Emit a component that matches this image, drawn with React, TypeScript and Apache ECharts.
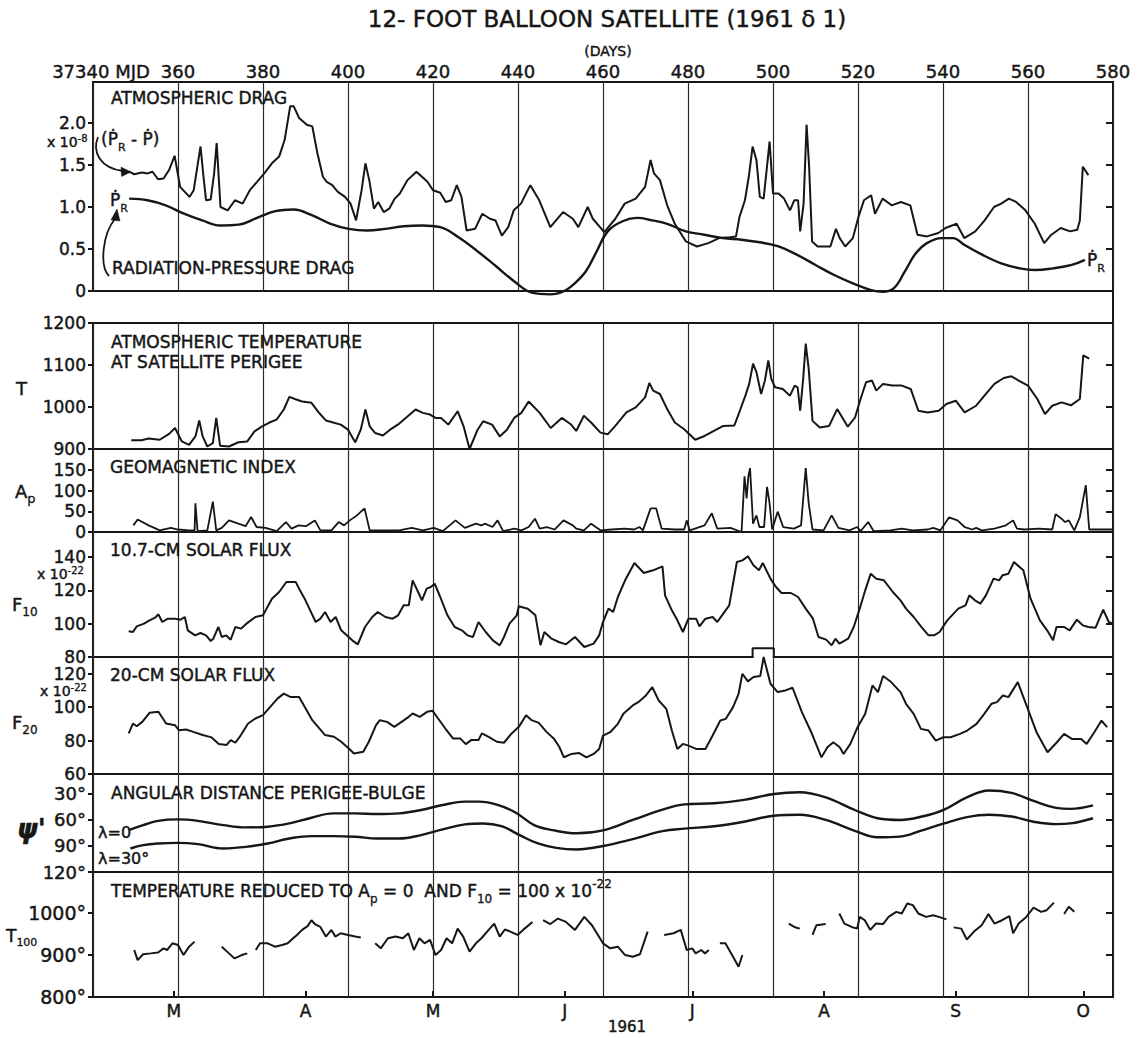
import React, { useEffect, useRef } from "react";
import * as echarts from "echarts";

// ---- axes -----------------------------------------------------------------
const DAY_MIN = 340;
const DAY_MAX = 580;
const DAY_STEP = 20;

const monthDays = [359, 390, 420, 451, 481, 512, 543, 573];
const monthLetters = ["M", "A", "M", "J", "J", "A", "S", "O"];

const dragTicks = [0, 0.5, 1, 1.5, 2];
const tempTicks = [900, 1000, 1100, 1200];
const apTicks = [0, 50, 100, 150];
const f10Ticks = [80, 100, 120, 140];
const f20Ticks = [60, 80, 100, 120];
const psiTicks = [30, 60, 90, 120];
const t100Ticks = [800, 900, 1000];

// ---- series (day, value) --------------------------------------------------
const dragExcess: [number, number][] = [
  [348.5, 1.42], [349.7, 1.39], [351.5, 1.41], [352.8, 1.4], [354, 1.42], [355.3, 1.33], [356.6, 1.34],
  [357.9, 1.44], [359.2, 1.61], [360.5, 1.24], [362.7, 1.12], [363.7, 1.2], [364.8, 1.56], [365.3, 1.72],
  [366, 1.36], [366.6, 1.08], [367.7, 1.09], [368.5, 1.4], [369.1, 1.76], [370, 1.0], [371.7, 0.96],
  [373.4, 1.08], [375.2, 1.04], [376.9, 1.2], [378.6, 1.3], [380.3, 1.4], [382.1, 1.52], [383.8, 1.6],
  [385.1, 1.8], [386.4, 2.2], [387.2, 2.2], [388.5, 2.06], [390.3, 1.98], [391.6, 1.96], [392.8, 1.64],
  [394.1, 1.36], [395, 1.3], [396.3, 1.26], [397.6, 1.18], [399.3, 1.12], [400.6, 1.04], [401.9, 0.84],
  [403.2, 1.2], [404.1, 1.52], [405, 1.32], [406.1, 0.98], [407.1, 1.06], [408.4, 0.94], [409.7, 0.98],
  [411, 1.1], [412.2, 1.16], [414, 1.32], [416.1, 1.42], [417.4, 1.36], [418.7, 1.3], [420, 1.2],
  [421.7, 1.17], [423, 1.06], [424.3, 1.08], [425.6, 1.26], [426.7, 1.12], [427.9, 0.72], [429.9, 0.74],
  [431.6, 0.92], [433.4, 0.86], [434.7, 0.84], [436.2, 0.66], [437.7, 0.76], [439, 0.96], [440.7, 1.04],
  [442.9, 1.26], [445, 1.08], [447.6, 0.76], [450.6, 0.94], [452.9, 0.86], [454.2, 0.76], [456.4, 1.0],
  [457.6, 0.86], [460.3, 0.7], [462.9, 0.86], [465.1, 1.04], [467.7, 1.1], [469.9, 1.24], [471.2, 1.56],
  [472, 1.4], [473.4, 1.32], [475.1, 1.02], [476.9, 0.8], [479.5, 0.59], [482.1, 0.53], [484.8, 0.57],
  [487.3, 0.63], [489.9, 0.64], [491.3, 0.65], [492.1, 0.88], [493.4, 1.08], [494.3, 1.36], [495.2, 1.72],
  [496.1, 1.56], [496.9, 1.12], [497.8, 1.1], [498.5, 1.44], [499.2, 1.78], [500, 1.16], [501.3, 1.16],
  [502.6, 1.1], [504, 0.96], [505, 1.08], [505.9, 1.08], [506.4, 0.71], [507.2, 1.04], [507.9, 1.98],
  [508.5, 1.48], [509.2, 0.59], [510.5, 0.53], [512.2, 0.53], [513.5, 0.53], [514.8, 0.74], [515.7, 0.63],
  [517, 0.53], [518.8, 0.63], [520.1, 0.88], [521.4, 1.08], [523.1, 1.14], [524, 0.92], [525.8, 1.1],
  [527.9, 1.02], [530.1, 1.06], [532.3, 1.02], [534, 0.67], [536.2, 0.65], [538.9, 0.69], [540.6, 0.75],
  [543.2, 0.8], [545, 0.63], [547.6, 0.71], [549.8, 0.84], [552, 1.0], [553.7, 1.04], [555.5, 1.1],
  [557.2, 1.06], [559.4, 0.96], [561.6, 0.8], [563.8, 0.57], [565.5, 0.67], [567.7, 0.75], [569.9, 0.71],
  [571.6, 0.73], [572.2, 0.84], [572.9, 1.48], [574.2, 1.38],
];

const radiationDrag: [number, number][] = [
  [348.5, 1.1], [352.8, 1.08], [357.1, 1.02], [361.4, 0.92], [365.7, 0.84], [370, 0.78], [374.3, 0.79],
  [378.6, 0.87], [382.9, 0.95], [387.2, 0.97], [391.6, 0.9], [395.9, 0.8], [400.2, 0.74], [404.5, 0.72],
  [408.8, 0.74], [413.1, 0.77], [417.4, 0.78], [421.7, 0.76], [426, 0.64], [430.3, 0.48], [434.7, 0.3],
  [439, 0.12], [443.3, -0.02], [447.6, -0.04], [450, -0.02], [452.4, 0.05], [455.9, 0.23], [458.5, 0.47],
  [461.1, 0.71], [464.6, 0.83], [468.1, 0.87], [471.6, 0.84], [475.1, 0.8], [479.5, 0.71], [483.8, 0.67],
  [488.2, 0.63], [492.6, 0.61], [496.9, 0.58], [501.3, 0.53], [505.7, 0.43], [510, 0.31], [514.4, 0.19],
  [518.8, 0.09], [523.1, 0.01], [525.8, -0.01], [528.4, 0.03], [531, 0.23], [533.6, 0.45], [536.2, 0.57],
  [539.7, 0.63], [542.4, 0.63], [545, 0.55], [549.3, 0.43], [553.7, 0.33], [558.1, 0.27], [561.6, 0.25],
  [565.9, 0.27], [570.3, 0.31], [573.4, 0.37],
];

const perigeeTemp: [number, number][] = [
  [349, 921], [351.4, 921], [353.1, 925], [355.7, 922], [357.9, 936], [359.3, 950], [360.9, 918],
  [362.6, 910], [364.1, 930], [365, 968], [365.8, 930], [366.9, 906], [368.2, 914], [369, 974],
  [369.9, 908], [372, 906], [374.2, 916], [376.3, 918], [378, 942], [379.8, 954], [381.5, 963],
  [383.2, 970], [384.9, 994], [386.2, 1024], [387.5, 1019], [389.2, 1013], [391.4, 1010], [393.1, 987],
  [394.8, 968], [396.5, 963], [398.3, 958], [400, 946], [401.7, 916], [403, 946], [404.1, 994],
  [405.1, 954], [406.4, 938], [408.2, 932], [409.9, 946], [412, 960], [414.2, 979], [415.9, 994],
  [417.6, 986], [419.3, 982], [420.6, 974], [421.9, 974], [423.6, 958], [425.8, 990], [427.2, 954],
  [428.6, 900], [430.5, 946], [431.8, 966], [433.9, 958], [435.7, 930], [437.4, 946], [439.1, 974],
  [440.8, 986], [442.5, 1013], [445.1, 986], [447.7, 950], [450.3, 974], [452.4, 959], [453.7, 943],
  [455.5, 979], [457.2, 963], [459.4, 939], [461.1, 935], [462.9, 955], [465.5, 987], [467.7, 999],
  [469.9, 1023], [470.9, 1057], [471.8, 1039], [473.4, 1031], [475.1, 995], [476.9, 963], [479.1, 947],
  [481.7, 922], [483.9, 931], [486.1, 943], [488.3, 955], [490.9, 956], [492.2, 991], [493.5, 1027],
  [494.4, 1055], [495.3, 1103], [496.1, 1083], [497.2, 1031], [498.1, 1063], [498.9, 1111], [499.6, 1067],
  [500.5, 1047], [502.3, 1043], [504, 1027], [505.1, 1051], [505.8, 1047], [506.4, 991], [507.1, 1067],
  [507.7, 1151], [508.4, 1091], [509.3, 967], [511, 951], [513.2, 955], [515.1, 995], [516.3, 975],
  [517.6, 953], [519.3, 975], [520.6, 1019], [521.9, 1059], [523.3, 1063], [524.3, 1039], [525.9, 1055],
  [528.1, 1051], [530.3, 1051], [532.4, 1043], [534.2, 991], [536.4, 987], [539, 991], [540.8, 1007],
  [543, 1015], [545.1, 987], [547.8, 1003], [549.9, 1029], [552.1, 1055], [554.3, 1069], [556.1, 1073],
  [557.8, 1063], [560, 1051], [562.2, 1019], [564, 983], [565.7, 1003], [567.9, 1011], [570.1, 1004],
  [572.2, 1019], [573, 1123], [574.4, 1115],
];

const apIndex: [number, number][] = [
  [349.5, 16], [350.5, 30], [353.1, 16], [355.7, 4], [358.3, 10], [360, 6], [362.6, 4], [363.9, 4],
  [364.1, 69], [364.6, 2], [366.9, 4], [368.2, 73], [369, 4], [370.3, 10], [372, 28], [374.2, 20],
  [375.9, 14], [377.2, 36], [378.5, 12], [380.6, 10], [383.2, 2], [385.4, 24], [386.7, 8], [388.4, 16],
  [390.1, 14], [392.2, 28], [393.5, 4], [396.1, 4], [397.8, 24], [399.1, 16], [400.4, 28], [402.1, 40],
  [403.9, 57], [405.1, 4], [409, 4], [412, 4], [415, 10], [417.6, 4], [420.2, 10], [422.3, 2],
  [425.3, 28], [427.5, 10], [430.1, 20], [431.4, 16], [432.2, 20], [434, 12], [435.2, 28], [436.5, 2],
  [439.1, 8], [440.8, 4], [442.5, 12], [444, 32], [445.1, 8], [446.8, 12], [448.6, 6], [450.7, 28],
  [452.9, 16], [453.7, 8], [455.5, 4], [457.2, 20], [459.4, 4], [462, 6], [465.1, 8], [467.3, 6],
  [468.6, 12], [469.4, 4], [471.2, 57], [472.5, 57], [473.8, 8], [476.9, 6], [479.1, 6], [479.7, 28],
  [480.4, 4], [483.9, 16], [485.6, 45], [486.9, 8], [490, 10], [492.6, 0], [493.3, 134], [493.8, 81],
  [494.2, 134], [494.6, 154], [495.3, 20], [496.1, 40], [496.8, 12], [497.9, 12], [498.6, 109],
  [499.2, 69], [499.8, 6], [501.1, 49], [502.4, 12], [504.9, 8], [506.6, 16], [507.7, 154], [508.4, 69],
  [509.3, 6], [511.9, 4], [513.8, 40], [515.4, 10], [518, 4], [519.8, 12], [520.6, 2], [522.4, 24],
  [523.7, 2], [527.6, 4], [530.3, 8], [532.9, 4], [536.4, 6], [537.7, 10], [539.4, 4], [541.4, 35],
  [543.4, 28], [545.1, 12], [546.9, 6], [547.8, 10], [549.1, 4], [552.1, 8], [554.8, 16], [556.5, 28],
  [557.4, 8], [559.1, 6], [562.6, 8], [565.7, 6], [566.5, 43], [567.9, 32], [568.7, 24], [569.6, 28],
  [570.9, 4], [572.2, 36], [573.6, 113], [574.4, 6], [575.7, 6], [580, 6],
];

const flux10: [number, number][] = [
  [348.4, 95.4], [349.4, 95], [350.3, 98.4], [352, 100], [353.3, 102], [354.6, 103.6], [355.4, 105.6],
  [356.3, 101], [357.6, 103], [359.3, 103], [360.6, 102.4], [361.6, 104], [362.3, 96], [364, 93],
  [365.3, 94.4], [366.6, 93], [367.7, 89.6], [368.3, 91], [369.5, 98], [370.3, 92], [371.3, 93],
  [372.4, 90.4], [373.5, 98], [374.8, 97], [376.1, 100], [378.2, 104], [380, 105], [382.1, 115],
  [383.8, 119], [385.5, 125], [387.7, 125], [388.5, 121], [389.8, 115], [391.1, 108], [392.4, 101],
  [393.5, 103], [394.6, 107], [395.9, 101], [397.1, 104], [398.4, 96], [399.7, 93], [401, 90],
  [402.3, 87.6], [404, 98], [405.7, 104], [407, 107], [408.8, 104], [410.5, 103], [411.8, 105],
  [413.1, 111], [414.3, 111], [415.2, 126], [416.5, 119], [417.4, 114], [418.5, 121], [419.5, 122],
  [420.4, 124], [421.7, 116], [423.4, 105], [425.1, 98], [426.8, 96], [428.1, 93], [429.4, 92],
  [430.7, 101], [432.4, 95], [434.1, 90], [435.7, 87], [436.7, 92], [438, 100], [439.7, 105],
  [440.2, 110.4], [442.3, 109], [444.1, 105], [445.3, 87], [446.2, 95], [447.9, 91], [449.6, 89],
  [451.3, 87.6], [453.4, 92], [455.6, 86], [457.8, 88], [459.1, 93], [460, 101], [461.3, 109],
  [462.4, 107], [463.5, 116], [465.2, 126], [467.4, 136.4], [469.6, 130.4], [471.8, 132], [474, 134.4],
  [474.6, 117], [476.2, 108], [477.5, 102], [478.8, 95], [480.1, 103], [481.9, 103], [482.7, 98.4],
  [484.1, 103], [485.8, 104], [486.9, 101], [488, 105], [489.7, 111], [491.5, 137], [492.8, 138],
  [494.1, 140.4], [495.4, 135], [496.7, 132], [497.6, 136.4], [499.4, 127], [500.7, 122], [502, 118.4],
  [504.2, 118.4], [505.9, 116], [507.7, 109], [509.4, 103], [510.7, 92], [512.5, 90.4], [513.8, 87],
  [514.7, 91], [515.6, 88], [517.7, 91], [519, 98], [520.4, 109], [521.7, 120], [523, 130], [524.3, 127],
  [526.1, 126], [528.2, 119], [530, 114], [531.3, 109], [533.1, 104], [534.8, 98.4], [536.6, 93],
  [537.9, 93], [539.2, 95], [541, 102], [543.6, 109], [545.3, 111], [546.2, 117], [547.5, 114],
  [548.8, 112], [550.1, 117], [551.9, 127], [553.2, 126], [554, 129], [555.4, 130], [556.7, 137],
  [558.9, 132], [560.6, 115], [562.8, 102], [564.5, 96], [565.9, 90], [566.7, 98], [568.5, 98],
  [569.8, 96], [571.5, 102.4], [572.9, 99], [574.2, 98], [575.9, 97.6], [577.7, 108.4], [579, 101],
  [580, 100],
];

const flux20: [number, number][] = [
  [348.4, 84.3], [349.4, 90.2], [350.3, 88.6], [351.6, 91.2], [353.3, 96.6], [355.4, 97.2], [357.2, 90.2],
  [359.3, 89.2], [360.2, 86.2], [361.9, 86.6], [363.6, 85.2], [365.8, 83.3], [367.9, 81.9], [369.6, 77.9],
  [371.4, 77.3], [372.4, 80.3], [373.5, 78.7], [374.8, 83.3], [376.5, 90.2], [378.2, 93.2], [380, 95.2],
  [381.7, 100.2], [383.4, 105.1], [384.9, 108.1], [386.4, 106.1], [388.5, 106.1], [389.8, 100.2],
  [391.6, 92.2], [393.3, 87.2], [394.6, 83.3], [396.7, 82.3], [398.4, 79.3], [400.2, 75.3], [401.4, 72.3],
  [403.6, 73.3], [404.9, 79.3], [406.6, 89.2], [407.5, 92.2], [409.2, 91.2], [410.9, 88.2], [412.6, 91.2],
  [414.3, 94.2], [415.2, 96.2], [416.9, 94.2], [418.6, 97.2], [419.9, 97.8], [421.2, 93.2], [422.9, 87.2],
  [424.7, 81.3], [426.4, 81.3], [427.7, 77.9], [429, 80.3], [430.7, 80.3], [431.5, 84.3], [433.3, 81.9],
  [435, 79.3], [436.7, 78.7], [438.5, 84.3], [440.2, 88.2], [441.9, 95.2], [443.2, 92.2], [444.9, 90.6],
  [446.7, 85.2], [448.4, 81.3], [449.7, 76.3], [450.8, 70], [452.6, 72], [454.3, 72.6], [456.1, 70],
  [457.8, 72], [459.1, 75], [460, 83], [461.7, 85], [463.5, 90], [464.8, 96], [467, 101], [468.3, 103],
  [470.1, 107], [471.6, 112], [473.1, 104], [474.9, 99], [476.2, 86], [477.5, 75], [478.8, 78],
  [480.1, 77], [481.9, 75], [484.1, 75], [485.8, 83], [487.6, 92], [488.9, 93], [490.6, 100],
  [491.9, 108], [492.8, 120], [494.1, 115.4], [495.4, 118], [497, 118.6], [497.8, 130], [499.4, 114],
  [501.1, 109], [502.9, 110], [504.6, 111.6], [506.8, 97], [509, 85], [511.4, 70], [512.8, 76],
  [514.2, 79], [515.7, 76], [516.6, 72], [518.2, 78], [519.9, 88], [521.7, 96], [523.4, 113],
  [524.7, 109], [525.9, 118.6], [527.8, 115], [530, 109], [531.3, 102], [533.1, 96], [534.8, 87],
  [536.6, 86], [538.3, 80], [540.1, 82], [541.8, 82], [544, 84], [545.7, 86], [547.9, 90], [549.7, 96],
  [551.4, 102], [552.7, 103], [554.1, 107], [555.4, 106], [557.6, 115], [559.8, 100], [562, 85],
  [564.6, 73], [566.8, 79], [568.5, 84], [570.3, 81], [572.5, 81], [573.8, 78], [575.6, 85],
  [577.3, 92], [578.6, 88],
];

// raised stretch of the frame where the 20-cm flux runs past its panel top
const notchStart = 495.2;
const notchEnd = 500.2;
const notchTop = 135.2;
const f20FrameNotch: [number, number][] = [
  [notchStart, 130], [notchStart, notchTop], [notchEnd, notchTop], [notchEnd, 130],
];
const f20FrameGap: [number, number][] = [[notchStart + 0.25, 130], [notchEnd - 0.25, 130]];

const psiLat0: [number, number][] = [
  [348.4, 71.7], [351.8, 66], [355.3, 61], [360, 59.3], [364.7, 61], [370.7, 66], [375.9, 68.6],
  [381.1, 67.8], [386.2, 64], [391.4, 57.4], [396.5, 52.4], [401.7, 52.4], [406.9, 53.2], [412, 52.4],
  [417.2, 48.5], [422.3, 42.7], [427.5, 38.9], [430.9, 38.9], [435.2, 42.7], [439.5, 51.6], [443.8, 66],
  [448.1, 71.7], [453.8, 75.4], [460, 72], [467, 60], [474, 48], [479.2, 42], [486.2, 40.8],
  [493.2, 36.8], [500.2, 30], [506.3, 28], [512.4, 34], [519.4, 48.8], [524.6, 58], [529.9, 60],
  [535.1, 56], [540.3, 48], [545.6, 34], [550.8, 26], [556.1, 28.8], [561.3, 38], [566.6, 46],
  [570, 47.2], [575.3, 43.2],
];

const psiLat30: [number, number][] = [
  [348.8, 92.9], [351.8, 89], [355.3, 87.1], [360, 86.4], [364.7, 87.9], [370.7, 92.9], [375.9, 91],
  [381.1, 87.1], [386.2, 81.4], [391.4, 78.6], [396.5, 78.6], [401.7, 79.4], [406.9, 81.4], [412, 81.4],
  [417.2, 77.5], [422.3, 70.9], [427.5, 65.1], [431.8, 64], [436.1, 67.1], [440.4, 77.5], [444.7, 87.1],
  [449, 92.2], [453.8, 94], [460, 90], [467, 82], [474, 72.8], [479.2, 70], [486.2, 67.2], [493.2, 62],
  [500.2, 55.2], [506.3, 54], [512.4, 60], [519.4, 72.8], [524.6, 80], [529.9, 79.2], [535.1, 72],
  [540.3, 64], [545.6, 56.8], [550.8, 54], [556.1, 56], [561.3, 62], [566.6, 64.8], [570, 64],
  [575.3, 58],
];

// reduced temperature comes in separate stretches
const t100Segments: [number, number][][] = [
  [[349.7, 912], [350.5, 888], [351.8, 902], [353.6, 904], [355.3, 906], [356.6, 916], [357.4, 912],
   [358.7, 928], [360, 924], [361.3, 900], [362.6, 920], [363.9, 932]],
  [[370.3, 920], [372, 904], [373.3, 892], [375, 900], [376.3, 904]],
  [[378.3, 912], [379.3, 928], [381.1, 928], [382.8, 920], [384.5, 924], [385.8, 928], [387.1, 940],
   [388, 948], [389.2, 960], [390.5, 969], [391.4, 983], [392.2, 974], [393.5, 967], [394.8, 944],
   [396.1, 960], [397, 944], [398.3, 952], [400, 948], [401.7, 944], [403, 942]],
  [[406.4, 928], [407.7, 916], [409.4, 940], [411.2, 944], [412.9, 940], [414.2, 952], [415.5, 912],
   [416.8, 940], [418, 928], [419.3, 936], [420.6, 900], [421.9, 912], [423.2, 940], [424.5, 928],
   [425.8, 963], [427.1, 944], [428.6, 908], [430.1, 928], [431.4, 940], [433.1, 960], [434.4, 975],
   [435.7, 944], [436.9, 961], [438.2, 956], [439.9, 948], [441.2, 960], [443.4, 979]],
  [[445.9, 983], [447.6, 974], [449.4, 987], [451.3, 979], [453.4, 960], [455.6, 991], [457.4, 971],
   [460, 928], [461.7, 916], [463.5, 920], [465.2, 900], [467, 896], [468.7, 902], [470.5, 956]],
  [[474.4, 948], [476.6, 952], [478.3, 960], [479.7, 912], [481, 916], [481.8, 904], [483.1, 912],
   [484, 904], [484.9, 912]],
  [[487.5, 928], [488.8, 928], [490.6, 896], [491.9, 872], [492.8, 900]],
  [[503.7, 975], [505, 967], [506.3, 963]],
  [[509.3, 948], [510.2, 971], [512.4, 974]],
  [[515.6, 999], [516.8, 975], [518.5, 967], [519.8, 963], [520.4, 991], [521.6, 983], [522.9, 960],
   [524.2, 975], [525.9, 974], [527.2, 991], [529, 1003], [530.3, 999], [531.6, 1023], [532.9, 1019],
   [534.2, 999], [536, 991], [537.7, 995], [539, 991], [540.8, 985]],
  [[542.5, 966], [544.3, 963], [545.6, 937], [547.3, 956], [549.1, 971], [550.7, 998], [552.1, 975],
   [553.9, 983], [555.6, 993], [556.5, 952], [557.8, 975], [559.6, 991], [561.3, 1013], [563.1, 1003],
   [564.4, 1007], [566.1, 1025]],
  [[568.5, 998], [569.6, 1015], [570.9, 1003]],
];

// ---- look -----------------------------------------------------------------
const INK = "#161616";
const FONT = "'DejaVu Sans', 'Liberation Sans', sans-serif";
const W = 1138;
const H = 1038;
const LEFT = 93;
const RIGHT = 25;
const TEXT_STROKE = 0.45;

type Panel = {
  top: number;
  height: number;
  min: number;
  max: number;
  inverse?: boolean;
  ticks: number[];
  fmt: (v: number) => string;
  labelSize: number;
};

const plain = (v: number) => String(v);
const degrees = (v: number) => `${v}°`;

const panels: Panel[] = [
  { top: 82, height: 209, min: 0, max: 2.488, ticks: dragTicks, fmt: (v) => (v === 0 ? "0" : v.toFixed(1)), labelSize: 17 },
  { top: 323, height: 126, min: 900, max: 1200, ticks: tempTicks, fmt: plain, labelSize: 17 },
  { top: 449, height: 83, min: 0, max: 200, ticks: apTicks, fmt: plain, labelSize: 17 },
  { top: 532, height: 125, min: 80, max: 155, ticks: f10Ticks, fmt: plain, labelSize: 17 },
  { top: 657, height: 117, min: 60, max: 130, ticks: f20Ticks, fmt: plain, labelSize: 17 },
  { top: 774, height: 98, min: 7, max: 120, inverse: true, ticks: psiTicks, fmt: degrees, labelSize: 18 },
  { top: 872, height: 125, min: 800, max: 1098, ticks: t100Ticks, fmt: degrees, labelSize: 19 },
];

const rich = (base: number, small: number, lead = 10) => ({
  b: { fontFamily: FONT, fontSize: base, lineHeight: base + lead, fill: INK, stroke: INK, lineWidth: TEXT_STROKE, verticalAlign: "middle" },
  sub: { fontFamily: FONT, fontSize: small, lineHeight: small, fill: INK, stroke: INK, lineWidth: TEXT_STROKE * 0.7, verticalAlign: "bottom" },
  sup: { fontFamily: FONT, fontSize: small, lineHeight: small, fill: INK, stroke: INK, lineWidth: TEXT_STROKE * 0.7, verticalAlign: "top" },
});

function label(x: number, y: number, text: string, size = 17, extra: Record<string, unknown> = {}) {
  return {
    type: "text",
    x,
    y,
    silent: true,
    z: 20,
    style: {
      text,
      fill: INK,
      stroke: INK,
      lineWidth: TEXT_STROKE,
      fontFamily: FONT,
      fontSize: size,
      align: "left",
      verticalAlign: "middle",
      textAlign: "left",
      textVerticalAlign: "middle",
      ...extra,
    },
  };
}

function richLabel(x: number, y: number, text: string, base = 17, small = 12, lead = 10) {
  return {
    type: "text",
    x,
    y,
    silent: true,
    z: 20,
    style: {
      text,
      rich: rich(base, small, lead),
      fill: INK,
      fontFamily: FONT,
      fontSize: base,
      align: "left",
      verticalAlign: "middle",
      textAlign: "left",
      textVerticalAlign: "middle",
    },
  };
}

function curve(x1: number, y1: number, cpx1: number, cpy1: number, cpx2: number, cpy2: number, x2: number, y2: number) {
  return {
    type: "bezierCurve",
    silent: true,
    z: 20,
    shape: { x1, y1, cpx1, cpy1, cpx2, cpy2, x2, y2 },
    style: { stroke: INK, lineWidth: 1.8, fill: null },
  };
}

function head(points: number[][]) {
  return { type: "polygon", silent: true, z: 20, shape: { points }, style: { fill: INK, stroke: INK, lineWidth: 0.5 } };
}

function buildOption() {
  const grids = panels.map((p) => ({
    left: LEFT,
    right: RIGHT,
    top: p.top,
    height: p.height,
    show: true,
    borderColor: INK,
    borderWidth: 2,
    backgroundColor: "transparent",
    containLabel: false,
    outerBoundsMode: "none",
  }));

  const xAxes: any[] = panels.map((_, i) => ({
    type: "value",
    gridIndex: i,
    min: DAY_MIN,
    max: DAY_MAX,
    interval: DAY_STEP,
    position: i === 0 ? "top" : "bottom",
    axisLine: { show: false },
    axisTick: { show: false },
    axisLabel:
      i === 0
        ? {
            show: true,
            margin: 2,
            showMinLabel: true,
            showMaxLabel: true,
            formatter: (v: number) => (v === DAY_MIN ? `{m|${37000 + v} MJD}` : `{n|${v}}`),
            rich: {
              m: { fontFamily: FONT, fontSize: 18, lineHeight: 18, color: INK, textBorderColor: INK, textBorderWidth: TEXT_STROKE, padding: [0, 0, 0, 16] },
              n: { fontFamily: FONT, fontSize: 18, lineHeight: 18, color: INK, textBorderColor: INK, textBorderWidth: TEXT_STROKE },
            },
          }
        : { show: false },
    splitLine: { show: true, lineStyle: { color: "#2b2b2b", width: 1.2 } },
  }));

  // calendar months under the bottom panel
  xAxes.push({
    type: "value",
    gridIndex: panels.length - 1,
    min: DAY_MIN,
    max: DAY_MAX,
    position: "bottom",
    axisLine: { show: false },
    axisTick: { show: true, inside: true, length: 6, customValues: monthDays, lineStyle: { color: INK, width: 2 } },
    axisLabel: {
      show: true,
      customValues: monthDays,
      margin: 5,
      formatter: (v: number) => monthLetters[monthDays.indexOf(v)] ?? "",
      fontFamily: FONT,
      fontSize: 17,
      color: INK,
      textBorderColor: INK,
      textBorderWidth: TEXT_STROKE,
    },
    splitLine: { show: false },
  });

  const leftAxes = panels.map((p, i) => ({
    type: "value",
    gridIndex: i,
    min: p.min,
    max: p.max,
    inverse: !!p.inverse,
    position: "left",
    axisLine: { show: false },
    axisTick: { show: true, inside: false, length: 5, customValues: p.ticks, lineStyle: { color: INK, width: 2 } },
    axisLabel: {
      show: true,
      customValues: p.ticks,
      formatter: p.fmt,
      margin: 7,
      fontFamily: FONT,
      fontSize: p.labelSize,
      lineHeight: p.labelSize - 3,
      color: INK,
      textBorderColor: INK,
      textBorderWidth: TEXT_STROKE,
    },
    splitLine: { show: false },
  }));

  const rightAxes = panels.map((p, i) => ({
    type: "value",
    gridIndex: i,
    min: p.min,
    max: p.max,
    inverse: !!p.inverse,
    position: "right",
    axisLine: { show: false },
    axisTick: { show: true, inside: true, length: 7, customValues: p.ticks, lineStyle: { color: INK, width: 2 } },
    axisLabel: { show: false },
    splitLine: { show: false },
  }));

  const line = (data: any[], panel: number, width = 2, smooth: number | boolean = false, color = INK) => ({
    type: "line",
    xAxisIndex: panel,
    yAxisIndex: panel,
    data,
    symbol: "none",
    showSymbol: false,
    smooth,
    clip: false,
    silent: true,
    animation: false,
    lineStyle: { color, width },
  });

  const series: any[] = [
    line(dragExcess, 0, 2),
    line(radiationDrag, 0, 2.4, 0.4),
    line(perigeeTemp, 1, 2),
    line(apIndex, 2, 1.8),
    line(flux10, 3, 2),
    line(f20FrameGap, 4, 3.5, false, "#ffffff"),
    line(flux20, 4, 2),
    line(f20FrameNotch, 4, 2),
    line(psiLat0, 5, 2.4, 0.4),
    line(psiLat30, 5, 2.4, 0.4),
    ...t100Segments.map((seg) => line(seg, 6, 2)),
  ];

  const rightEdge = W - RIGHT;
  const dragBottom = panels[0].top + panels[0].height;

  const graphic: any[] = [
    label(607, 19, "12- FOOT BALLOON SATELLITE (1961 δ 1)", 23, { align: "center", textAlign: "center" }),
    label(608, 51, "(DAYS)", 14, { align: "center", textAlign: "center" }),
    // right frame between the drag panel and the temperature panel
    { type: "line", silent: true, z: 20, shape: { x1: rightEdge, y1: dragBottom, x2: rightEdge, y2: panels[1].top }, style: { stroke: INK, lineWidth: 2 } },

    label(111, 98, "ATMOSPHERIC DRAG"),
    richLabel(47, 142, "{b|x 10}{sup|-8}", 14, 10, 4),
    richLabel(101, 139, "{b|(Ṗ}{sub|R}{b| - Ṗ)}", 17, 11),
    curve(98, 137, 92, 152, 100, 168, 123, 171),
    head([[131, 172], [121, 167], [121.5, 176.5]]),
    richLabel(110, 200, "{b|Ṗ}{sub|R}", 17, 11),
    curve(109, 276, 99, 266, 103, 233, 115, 219),
    head([[117, 209], [111, 220], [120, 221]]),
    label(112, 268, "RADIATION-PRESSURE DRAG"),
    richLabel(1087, 260, "{b|Ṗ}{sub|R}", 17, 11),

    label(111, 342, "ATMOSPHERIC TEMPERATURE"),
    label(111, 362, "AT SATELLITE PERIGEE"),
    label(16, 388, "T", 18),

    label(110, 467, "GEOMAGNETIC INDEX"),
    richLabel(15, 491, "{b|A}{sub|p}", 18, 13),

    label(110, 550, "10.7-CM SOLAR FLUX"),
    richLabel(37, 574, "{b|x 10}{sup|-22}", 14, 10, 4),
    richLabel(12, 604, "{b|F}{sub|10}", 18, 12),

    label(110, 675, "20-CM SOLAR FLUX"),
    richLabel(40, 691, "{b|x 10}{sup|-22}", 14, 10, 4),
    richLabel(12, 722, "{b|F}{sub|20}", 18, 12),

    label(111, 793, "ANGULAR DISTANCE PERIGEE-BULGE"),
    label(17, 829, "ψ'", 26, { fontWeight: "bold", fontStyle: "italic" }),
    label(98, 832, "λ=0", 16),
    label(98, 858, "λ=30°", 16),

    richLabel(111, 891, "{b|TEMPERATURE REDUCED TO A}{sub|p}{b| = 0  AND F}{sub|10}{b| = 100 x 10}{sup|-22}", 17, 12),
    richLabel(6, 936, "{b|T}{sub|100}", 17, 11, 6),

    label(627, 1027, "1961", 15, { align: "center", textAlign: "center" }),
  ];

  return {
    animation: false,
    backgroundColor: "#ffffff",
    textStyle: { fontFamily: FONT, color: INK },
    grid: grids,
    xAxis: xAxes,
    yAxis: [...leftAxes, ...rightAxes],
    series,
    graphic,
  };
}

export default function App() {
  const ref = useRef<HTMLDivElement>(null);

  useEffect(() => {
    document.body.style.margin = "0";
    if (!ref.current) return;
    const chart = echarts.init(ref.current, undefined, { renderer: "svg" });
    chart.setOption(buildOption() as any);
    return () => chart.dispose();
  }, []);

  return <div ref={ref} style={{ width: W, height: H, background: "#fff" }} />;
}
